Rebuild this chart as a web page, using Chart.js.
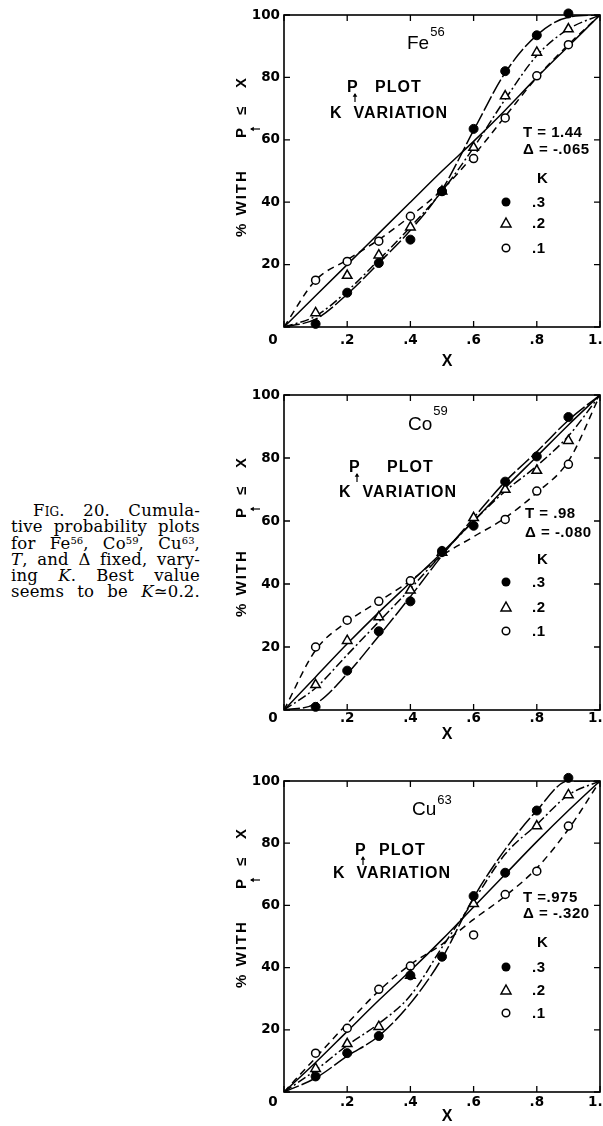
<!DOCTYPE html>
<html>
<head>
<meta charset="utf-8">
<title>Fig. 20 - cumulative probability plots</title>
<script src="https://cdn.jsdelivr.net/npm/chart.js@4.4.1/dist/chart.umd.min.js"></script>
<style>
  body { margin: 0; background: #fff; }
  #page { position: relative; width: 603px; height: 1126px; overflow: hidden; background: #fff; }
  #page canvas { position: absolute; left: 230px; }
  #caption { position: absolute; left: 11px; top: 503px; width: 189px; color: #000;
    font-family: "DejaVu Serif", "Liberation Serif", serif; font-size: 16.5px; line-height: 16.3px;
    letter-spacing: 0.2px; }
  #caption div { text-align: justify; text-align-last: justify; white-space: nowrap; }
  #caption sup { font-size: 10px; line-height: 0; vertical-align: 5px; letter-spacing: 0; }
</style>
</head>
<body>
<div id="page">
  <div id="caption">
    <div style="padding-left:22px"><span style="font-variant:small-caps">Fig.</span> 20. Cumula-</div>
    <div>tive probability plots</div>
    <div>for Fe<sup>56</sup>, Co<sup>59</sup>, Cu<sup>63</sup>,</div>
    <div><i>T</i>, and &Delta; fixed, vary-</div>
    <div>ing <i>K</i>. Best value</div>
    <div>seems to be <i>K</i>&#8771;0.2.</div>
  </div>
  <canvas id="feChart" width="373" height="370" style="top:0px"></canvas>
  <canvas id="coChart" width="373" height="375" style="top:370px"></canvas>
  <canvas id="cuChart" width="373" height="378" style="top:748px"></canvas>
</div>
<script>
const SANS = '"Liberation Sans", Arial, sans-serif';
const TICKFONT = '"DejaVu Sans", "Liberation Sans", sans-serif';

// x positions of measured points and of the drawn curves
const pointX = [0.1, 0.2, 0.3, 0.4, 0.5, 0.6, 0.7, 0.8, 0.9];
const curveX = [0, 0.1, 0.2, 0.3, 0.4, 0.5, 0.6, 0.7, 0.8, 0.9, 1.0];
const xTickLabels = ['', '.2', '.4', '.6', '.8', '1.0'];
const yTickLabels = ['', '20', '40', '60', '80', '100'];
const kValues = ['.3', '.2', '.1'];

// Fe56
const feK3 = [1, 11, 20.5, 28, 43.5, 63.5, 82, 93.5, 100.5];
const feK2 = [4.5, 16.5, 23, 32, 43.5, 57.5, 74, 88, 95.5];
const feK1 = [15, 21, 27.5, 35.5, 43.5, 54, 67, 80.5, 90.5];
const feLine = [0, 10, 20, 30, 40, 50, 59.5, 69.5, 80, 90, 100];
const feFitK3 = [0, 2.5, 10.5, 20.5, 31, 44, 63, 81.5, 93.5, 99.3, 100];
const feFitK2 = [0, 3.5, 11.5, 21.5, 32, 43.5, 57.5, 73, 87, 95.5, 100];
const feFitK1 = [0, 15, 21.5, 28, 35.5, 44, 55, 67.5, 80, 90.5, 100];

// Co59
const coK3 = [1, 12.5, 25, 34.5, 50.5, 58.5, 72.5, 80.5, 93];
const coK2 = [8, 22, 29.5, 38, 50, 61, 70, 76, 85.5];
const coK1 = [20, 28.5, 34.5, 41, 50, null, 60.5, 69.5, 78];
const coLine = [0, 10.5, 21, 31, 40.5, 50, 60, 70.5, 80.5, 90.5, 100];
const coFitK3 = [0, 2, 11.5, 23.5, 36, 49, 61, 72.5, 82, 92, 100];
const coFitK2 = [0, 7, 17.5, 28, 38.5, 49.5, 60, 69.5, 77.5, 87, 100];
const coFitK1 = [0, 19, 28, 34.5, 41, 49, 55, 61, 69, 79, 100];

// Cu63
const cuK3 = [5, 12.5, 18, 37.5, 43.5, 63, 70.5, 90.5, 101];
const cuK2 = [7.5, 15.5, 21, 37.5, null, 60.5, null, 85.5, 95.5];
const cuK1 = [12.5, 20.5, 33, 40.5, null, 50.5, 63.5, 71, 85.5];
const cuLine = [0, 9.5, 19.5, 29.5, 39, 49, 59.5, 70, 80.5, 90.5, 100];
const cuFitK3 = [0, 4.5, 11.5, 18, 28.5, 43, 62.5, 78, 90.5, 100, 100];
const cuFitK2 = [0, 7, 15, 22, 31, 46.5, 61.5, 76.5, 86, 95.5, 100];
const cuFitK1 = [0, 11, 22, 32.5, 41, 47.5, 55.5, 63, 72, 84.5, 100];

// text placement, px from chart area top-left
const feText = { name: 'Fe', sup: '56', nameX: 123, nameY: 34, supDy: 13,
  pX: 63, plotX: 91, pY: 77, kvX: 46, kvY: 103,
  tText: 'T = 1.44', dText: '\u0394 = -.065', tX: 239, tY: 122, dY: 139,
  kY: 168, rows: [187, 208, 233], yTitleBottom: 222, zeroDy: 13, xTitleDy: 35 };
const coText = { name: 'Co', sup: '59', nameX: 124, nameY: 35, supDy: 15,
  pX: 65, plotX: 103, pY: 77, kvX: 55, kvY: 102,
  tText: 'T = .98', dText: '\u0394 = -.080', tX: 241, tY: 123, dY: 142,
  kY: 169, rows: [187, 212, 236], yTitleBottom: 222, zeroDy: 8, xTitleDy: 25 };
const cuText = { name: 'Cu', sup: '63', nameX: 128, nameY: 34, supDy: 11,
  pX: 71, plotX: 95, pY: 74, kvX: 49, kvY: 97,
  tText: 'T =.975', dText: '\u0394 = -.320', tX: 239, tY: 121, dY: 137,
  kY: 166, rows: [186, 209, 232], yTitleBottom: 207, zeroDy: 10, xTitleDy: 25 };

function pts(xv, yv) {
  return xv.map((x, i) => ({ x: x, y: yv[i] })).filter(p => p.y !== null);
}

function arrowUp(ctx, x, yBottom, yTop) {
  ctx.beginPath();
  ctx.moveTo(x, yBottom); ctx.lineTo(x, yTop + 1);
  ctx.stroke();
  ctx.beginPath();
  ctx.moveTo(x - 2.3, yTop + 3.8); ctx.lineTo(x, yTop); ctx.lineTo(x + 2.3, yTop + 3.8);
  ctx.closePath(); ctx.fill();
}

const panelText = {
  id: 'panelText',
  afterDraw(chart, args, o) {
    const ctx = chart.ctx, a = chart.chartArea;
    const xs = chart.scales.x, ys = chart.scales.y;
    ctx.save();
    ctx.strokeStyle = '#000'; ctx.fillStyle = '#000';
    ctx.lineWidth = 1.6;
    ctx.strokeRect(a.left, a.top, a.right - a.left, a.bottom - a.top);

    // inward ticks on all four sides
    ctx.lineWidth = 1.3;
    ctx.beginPath();
    xs.ticks.forEach(t => {
      const px = xs.getPixelForValue(t.value);
      ctx.moveTo(px, a.bottom); ctx.lineTo(px, a.bottom - 6);
      ctx.moveTo(px, a.top); ctx.lineTo(px, a.top + 6);
    });
    ys.ticks.forEach(t => {
      const py = ys.getPixelForValue(t.value);
      ctx.moveTo(a.left, py); ctx.lineTo(a.left + 6, py);
      ctx.moveTo(a.right, py); ctx.lineTo(a.right - 6, py);
    });
    ctx.stroke();

    ctx.textAlign = 'center'; ctx.textBaseline = 'middle';
    ctx.font = 'bold 13.5px ' + TICKFONT;
    ctx.fillText('0', a.left - 11, a.bottom + o.zeroDy);
    ctx.font = 'bold 16px ' + SANS;
    ctx.fillText('X', (a.left + a.right) / 2 + 5, a.bottom + o.xTitleDy);

    // y title, read bottom to top
    ctx.save();
    ctx.translate(a.left - 42, a.top + o.yTitleBottom);
    ctx.rotate(-Math.PI / 2);
    ctx.textAlign = 'left';
    ctx.font = 'bold 15px ' + SANS;
    ctx.letterSpacing = '2px';
    ctx.fillText('% WITH', 0, 0);
    ctx.letterSpacing = '0px';
    ctx.fillText('P', 99, 0);
    ctx.lineWidth = 1.2;
    arrowUp(ctx, 108, 18, 8);
    ctx.fillText('\u2264', 122, 0);
    ctx.fillText('X', 149, 0);
    ctx.restore();

    ctx.textAlign = 'left'; ctx.textBaseline = 'alphabetic';
    const L = a.left, T = a.top;

    // element name
    ctx.font = '19px ' + SANS;
    ctx.fillText(o.name, L + o.nameX, T + o.nameY);
    const nw = ctx.measureText(o.name).width;
    ctx.font = '13px ' + SANS;
    ctx.fillText(o.sup, L + o.nameX + nw + 1, T + o.nameY - o.supDy);

    // P(arrow) PLOT / K VARIATION
    ctx.font = 'bold 16px ' + SANS;
    ctx.letterSpacing = '1px';
    ctx.fillText('P', L + o.pX, T + o.pY);
    ctx.fillText('PLOT', L + o.plotX, T + o.pY);
    ctx.fillText('K  VARIATION', L + o.kvX, T + o.kvY);
    ctx.lineWidth = 1.2;
    arrowUp(ctx, L + o.pX + 8, T + o.pY + 10, T + o.pY + 1);

    ctx.font = 'bold 15px ' + SANS;
    ctx.letterSpacing = '0.5px';
    ctx.fillText(o.tText, L + o.tX, T + o.tY);
    ctx.fillText(o.dText, L + o.tX, T + o.dY);
    ctx.fillText('K', L + 253, T + o.kY);

    // legend
    const mx = L + 222;
    o.rows.forEach((ry, i) => {
      const cy = T + ry;
      ctx.lineWidth = 1.5;
      if (i === 0) {
        ctx.beginPath(); ctx.arc(mx, cy, 4.5, 0, Math.PI * 2); ctx.fill();
      } else if (i === 1) {
        ctx.beginPath();
        ctx.moveTo(mx, cy - 5); ctx.lineTo(mx + 5, cy + 4); ctx.lineTo(mx - 5, cy + 4);
        ctx.closePath(); ctx.stroke();
      } else {
        ctx.beginPath(); ctx.arc(mx, cy, 3.8, 0, Math.PI * 2); ctx.stroke();
      }
      ctx.fillText(kValues[i], L + 248, cy + 5);
    });
    ctx.restore();
  }
};

function curve(yv, dash) {
  return { data: pts(curveX, yv), showLine: true, pointRadius: 0, borderColor: '#000',
    borderWidth: 1.5, borderDash: dash, cubicInterpolationMode: 'monotone', fill: false };
}

function makeChart(id, d, text, padTop, axisH, tickPad) {
  return new Chart(document.getElementById(id), {
    type: 'scatter',
    data: {
      datasets: [
        { data: pts(pointX, d.k3), pointStyle: 'circle', pointRadius: 4.5,
          backgroundColor: '#000', borderColor: '#000', borderWidth: 1, clip: false },
        { data: pts(pointX, d.k2), pointStyle: 'triangle', pointRadius: 5.5,
          backgroundColor: '#fff', borderColor: '#000', borderWidth: 1.5, clip: false },
        { data: pts(pointX, d.k1), pointStyle: 'circle', pointRadius: 4,
          backgroundColor: '#fff', borderColor: '#000', borderWidth: 1.5, clip: false },
        curve(d.line, []),
        curve(d.fitK3, [16, 3]),
        curve(d.fitK2, [9, 3, 2, 3]),
        curve(d.fitK1, [7, 5])
      ]
    },
    options: {
      responsive: false,
      animation: false,
      events: [],
      layout: { autoPadding: false, padding: { top: padTop, right: 3, left: 0, bottom: 0 } },
      plugins: { legend: { display: false }, tooltip: { enabled: false }, panelText: text },
      scales: {
        x: {
          type: 'linear', min: 0, max: 1,
          afterFit: s => { s.height = axisH; s.paddingLeft = 0; s.paddingRight = 0; },
          grid: { display: false, drawTicks: false }, border: { display: false },
          ticks: { stepSize: 0.2, padding: tickPad, color: '#000', maxRotation: 0,
            font: { family: TICKFONT, size: 13.5, weight: 'bold' },
            callback: (v, i) => xTickLabels[i] }
        },
        y: {
          min: 0, max: 100,
          afterFit: s => { s.width = 54; s.paddingTop = 0; s.paddingBottom = 0; },
          grid: { display: false, drawTicks: false }, border: { display: false },
          ticks: { stepSize: 20, padding: 4, color: '#000',
            font: { family: TICKFONT, size: 13.5, weight: 'bold' },
            callback: (v, i) => yTickLabels[i] }
        }
      }
    },
    plugins: [panelText]
  });
}

makeChart('feChart', { k3: feK3, k2: feK2, k1: feK1, line: feLine, fitK3: feFitK3, fitK2: feFitK2, fitK1: feFitK1 }, feText, 15, 43, 5);
makeChart('coChart', { k3: coK3, k2: coK2, k1: coK1, line: coLine, fitK3: coFitK3, fitK2: coFitK2, fitK1: coFitK1 }, coText, 25, 35, 0);
makeChart('cuChart', { k3: cuK3, k2: cuK2, k1: cuK1, line: cuLine, fitK3: cuFitK3, fitK2: cuFitK2, fitK1: cuFitK1 }, cuText, 33, 34, 2);
</script>
</body>
</html>
